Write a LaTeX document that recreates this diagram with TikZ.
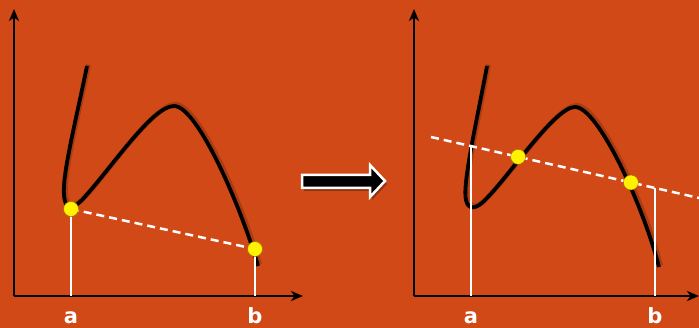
\documentclass[tikz,border=0pt]{standalone}
\usepackage{fontspec}
\setmainfont{DejaVu Sans}
\usetikzlibrary{arrows.meta,calc}
\definecolor{bg}{RGB}{209,73,23}
\definecolor{dotedge}{RGB}{160,110,10}
\definecolor{dotfill}{RGB}{255,242,0}
\tikzset{
  axisline/.style={line width=2pt, draw=black, -{Stealth[length=12pt,width=10pt,inset=3.5pt]}},
  curveline/.style={line width=3.8pt, draw=black},
  curveshadow/.style={line width=5pt, draw=black, opacity=0.18},
  dashline/.style={line width=2.5pt, draw=white, dash pattern=on 8pt off 5pt},
  vline/.style={line width=1.5pt, draw=white},
  ptdot/.style={circle, fill=dotfill, draw=dotedge, line width=0.5pt, minimum size=15pt, inner sep=0pt},
  lbl/.style={text=white, font=\fontsize{21}{21}\selectfont\bfseries, anchor=base, inner sep=0pt},
  curveL/.style={insert path={(87,66) .. controls (76,120) and (62,175) .. (64,195)
     .. controls (65,210) and (72,210) .. (82,200)
     .. controls (110,170) and (152,106) .. (174,106)
     .. controls (198,106) and (243,212) .. (258,266)}},
  curveR/.style={insert path={(487,66) .. controls (477,120) and (462,185) .. (466,200)
     .. controls (468,210) and (476,210) .. (486,199)
     .. controls (510,175) and (555,107) .. (575,107)
     .. controls (598,107) and (643,205) .. (659,267)}},
}
\begin{document}
\begin{tikzpicture}[x=1pt,y=-1pt]
\fill[bg] (0,0) rectangle (699,328);
\useasboundingbox (0,0) rectangle (699,328);

% ---------- left panel ----------
\coordinate (O1) at (14,296);
\coordinate (Y1) at (14,9);
\coordinate (X1) at (303,296);
\draw[axisline] (O1) -- (Y1);
\draw[axisline] (O1) -- (X1);

\begin{scope}[shift={(1.5,-1.5)}]
\draw[curveshadow, curveL];
\end{scope}
\draw[curveline, curveL];

\coordinate (A1) at (71,209);
\coordinate (B1) at (255,249);
\draw[vline] (A1) -- (A1 |- O1);
\draw[vline] (B1) -- (B1 |- O1);
\draw[dashline] (A1) -- (B1);
\node[ptdot] (pa1) at (A1) {};
\node[ptdot] (pb1) at (B1) {};
\node[lbl] (la1) at (71,324) {a};
\node[lbl] (lb1) at (255,324) {b};

% ---------- big arrow ----------
\fill[black, opacity=0.3] (304,178) -- (372,178) -- (372,168) -- (387,184) -- (372,200) -- (372,191) -- (304,191) -- cycle;
\draw[white, line width=2.5pt, fill=black, line join=miter]
  (302,175) -- (370,175) -- (370,165) -- (385,181) -- (370,197) -- (370,188) -- (302,188) -- cycle;

% ---------- right panel ----------
\coordinate (O2) at (414,296);
\coordinate (Y2) at (414,9);
\coordinate (X2) at (699,296);
\draw[axisline] (O2) -- (Y2);
\draw[axisline] (O2) -- (X2);

\begin{scope}[shift={(1.5,-1.5)}]
\draw[curveshadow, curveR];
\end{scope}
\draw[curveline, curveR];

\coordinate (L1) at (431,137);
\coordinate (L2) at (699,198);
\coordinate (A2) at ($(L1)!0.149!(L2)$);
\coordinate (B2) at ($(L1)!0.836!(L2)$);
\coordinate (P2) at ($(L1)!0.325!(L2)$);
\coordinate (Q2) at ($(L1)!0.746!(L2)$);
\draw[vline] (A2) -- (A2 |- O2);
\draw[vline] (B2) -- (B2 |- O2);
\draw[dashline] (L1) -- (L2);
\node[ptdot] (p2) at (P2) {};
\node[ptdot] (q2) at (Q2) {};
\node[lbl] (la2) at (471,324) {a};
\node[lbl] (lb2) at (655,324) {b};
\end{tikzpicture}
\end{document}
